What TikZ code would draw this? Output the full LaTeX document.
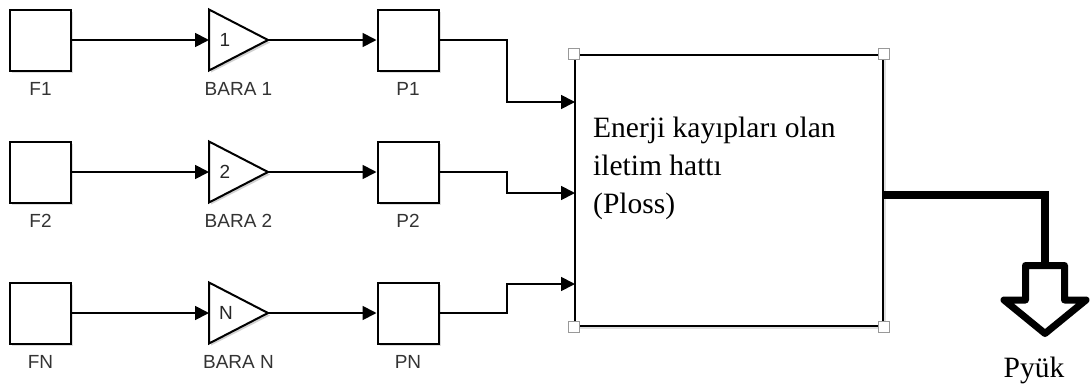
\documentclass[tikz,border=0pt]{standalone}
\usepackage{fontspec}
\setmainfont{Liberation Serif}
\setsansfont{Liberation Sans}
\usetikzlibrary{arrows.meta,shadows}
\begin{document}
\begin{tikzpicture}[x=1pt,y=-1pt,
  blk/.style={draw=black, line width=2pt, fill=white, minimum width=61pt, minimum height=61pt, inner sep=0pt,
    drop shadow={shadow xshift=2pt,shadow yshift=-2pt,opacity=0.25}},
  lbl/.style={font=\sffamily\fontsize{19}{20}\selectfont, text=black!80, anchor=base, inner sep=0pt},
  gnum/.style={font=\sffamily\fontsize{19}{20}\selectfont, text=black!85, inner sep=0pt},
  conn/.style={line width=1.8pt, -{Triangle[length=14pt,width=14pt]}},
  tri/.style={draw=black, line width=2pt, fill=white, line join=miter},
  trishadow/.style={fill=black, opacity=0.18},
  handle/.style={draw=black!40, line width=1.4pt, fill=white, minimum size=11pt, inner sep=0pt},
  thickline/.style={line width=8pt, line join=miter},
  hollow/.style={draw=black, line width=7pt, fill=white, line join=round}
]
\useasboundingbox (0,0) rectangle (1090,388);

% ---- row 1 ----
\node[blk] (F1) at (40.5,40) {};
\node[lbl] (F1l) at (40.5,95) {F1};
\coordinate (B1in) at (209,40);
\coordinate (B1out) at (268,40);
\fill[trishadow] (211,11.5) -- (270,42.5) -- (211,72.5) -- cycle;
\draw[tri] (209,9.5) -- (B1out) -- (209,70.5) -- cycle;
\node[gnum] (B1n) at (225,40) {1};
\node[lbl] (B1l) at (238.5,95) {BARA 1};
\node[blk] (P1) at (408,40) {};
\node[lbl] (P1l) at (408,95) {P1};

% ---- row 2 ----
\node[blk] (F2) at (40.5,172) {};
\node[lbl] (F2l) at (40.5,227.5) {F2};
\coordinate (B2in) at (209,172);
\coordinate (B2out) at (268,172);
\fill[trishadow] (211,143.5) -- (270,174.5) -- (211,204.5) -- cycle;
\draw[tri] (209,141.5) -- (B2out) -- (209,202.5) -- cycle;
\node[gnum] (B2n) at (225,172) {2};
\node[lbl] (B2l) at (238.5,227.5) {BARA 2};
\node[blk] (P2) at (408,172) {};
\node[lbl] (P2l) at (408,227.5) {P2};

% ---- row N ----
\node[blk] (FN) at (40.5,313) {};
\node[lbl] (FNl) at (40.5,368.5) {FN};
\coordinate (BNin) at (209,313);
\coordinate (BNout) at (268,313);
\fill[trishadow] (211,284.5) -- (270,315.5) -- (211,345.5) -- cycle;
\draw[tri] (209,282.5) -- (BNout) -- (209,343.5) -- cycle;
\node[gnum] (BNn) at (226,313) {N};
\node[lbl] (BNl) at (238.5,368.5) {BARA N};
\node[blk] (PN) at (408,313) {};
\node[lbl] (PNl) at (408,368.5) {PN};

% ---- system block ----
\node[draw=black, line width=2pt, fill=white, minimum width=308pt, minimum height=271pt, inner sep=0pt,
  drop shadow={shadow xshift=3pt,shadow yshift=-3pt,opacity=0.25}] (sys) at (729,190.5) {};
\node[anchor=base west, align=left, inner sep=0pt,
  font=\fontsize{29.5}{38}\selectfont] (systxt) at (593,213) {Enerji kayıpları olan\\iletim hattı\\(Ploss)};
\node[handle] (h1) at (sys.north west) {};
\node[handle] (h2) at (sys.north east) {};
\node[handle] (h3) at (sys.south west) {};
\node[handle] (h4) at (sys.south east) {};

\coordinate (in1) at (575,102);
\coordinate (in2) at (575,193);
\coordinate (in3) at (575,284);
\coordinate (out) at (883,195);

% ---- connectors ----
\draw[conn] (F1.east) -- (B1in);
\draw[conn] (B1out) -- (P1.west);
\draw[conn] (F2.east) -- (B2in);
\draw[conn] (B2out) -- (P2.west);
\draw[conn] (FN.east) -- (BNin);
\draw[conn] (BNout) -- (PN.west);
\draw[conn] (P1.east) -- (507,40) |- (in1);
\draw[conn] (P2.east) -- (507,172) |- (in2);
\draw[conn] (PN.east) -- (507,313) |- (in3);

% ---- output ----
\coordinate (arrtop) at (1045,266);
\draw[thickline] (out) -| (arrtop);
\draw[hollow] (1025.5,265.5) -- (1064.5,265.5) -- (1064.5,300) -- (1086,300) -- (1045,333.5) -- (1004,300) -- (1025.5,300) -- cycle;
\node[anchor=base, inner sep=0pt, font=\fontsize{29.5}{34}\selectfont] (pyuk) at (1034,377) {Pyük};
\end{tikzpicture}
\end{document}
